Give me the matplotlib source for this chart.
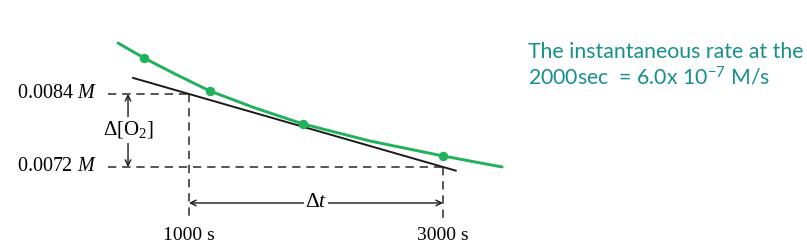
import matplotlib
matplotlib.use("Agg")
import matplotlib.pyplot as plt

# concentration of O2 (M) vs time (s)
curve_t = [441, 646, 890, 1165, 1520, 1898, 2425, 3000, 3465]
curve_c = [0.009238, 0.008992, 0.008729, 0.008449, 0.008170, 0.007907, 0.007627, 0.007381, 0.007200]
point_t = [646, 1165, 1898, 3000]
point_c = [0.008992, 0.008449, 0.007907, 0.007381]

# tangent at 2000 s, slope -6.0e-7 M/s
tan_t = [560, 3100]
tan_c = [0.008664, 0.00714]

t1, t2 = 1000, 3000
c1, c2 = 0.0084, 0.0072
ylabels = ["0.0084 $M$", "0.0072 $M$"]
xlabels = ["1000 s", "3000 s"]
note = ["The instantaneous rate at the",
        r"2000sec  = 6.0x 10$\mathregular{^{-7}}$ M/s"]

plt.rcParams['mathtext.fontset'] = 'custom'
plt.rcParams['mathtext.rm'] = 'Liberation Serif'
plt.rcParams['mathtext.it'] = 'Liberation Serif:italic'

green = '#1fb25a'
teal = '#17908a'
dash = '#3a3a3a'

fig = plt.figure(figsize=(8.07, 2.48), dpi=100)
ax = fig.add_axes([0, 0, 1, 1])
ax.set_xlim(-488, 5866)
ax.set_ylim(0.005868, 0.009945)
ax.axis('off')

ax.plot(curve_t, curve_c, color=green, lw=2.1, solid_capstyle='round', zorder=3)
ax.plot(point_t, point_c, 'o', color=green, ms=5.8, zorder=4)
ax.plot(tan_t, tan_c, color='#1a1a1a', lw=1.4, zorder=2)

dkw = dict(color=dash, lw=1.2, ls=(0, (5, 3.5)), zorder=1)
ax.plot([362, t1], [c1, c1], **dkw)
ax.plot([362, t2], [c2, c2], **dkw)
ax.plot([t1, t1], [c1, 0.006360], **dkw)
ax.plot([t2, t2], [c2, 0.006360], **dkw)

for c, lab in zip([c1, c2], ylabels):
    ax.text(276, c, lab, ha='right', va='center', fontsize=14.5,
            family='Liberation Serif')
for t, lab in zip([t1, t2], xlabels):
    ax.text(t, 0.006070, lab, ha='center', va='center', fontsize=14,
            family='Liberation Serif')

akw = dict(arrowstyle='<->', color='#1a1a1a', lw=1.0, shrinkA=0, shrinkB=0,
           mutation_scale=10)
ax.annotate('', xy=(520, c1), xytext=(520, c2), arrowprops=akw)
ax.annotate('', xy=(t1, 0.006608), xytext=(t2, 0.006608), arrowprops=akw)
ax.text(520, 0.007808, 'Δ[O$_2$]', ha='center', va='center', fontsize=15,
        family='Liberation Serif',
        bbox=dict(facecolor='white', edgecolor='none', pad=2))
ax.text((t1 + t2) / 2, 0.006608, 'Δ$t$', ha='center', va='center', fontsize=15.5,
        family='Liberation Serif',
        bbox=dict(facecolor='white', edgecolor='none', pad=0.5))

fig.text(528 / 807, 1 - 52 / 248, note[0], ha='left', va='center',
         fontsize=15.3, color=teal, family='Lato')
fig.text(528 / 807, 1 - 77 / 248, note[1], ha='left', va='center',
         fontsize=15.3, color=teal, family='Lato')

fig.savefig('out.png', dpi=100)
